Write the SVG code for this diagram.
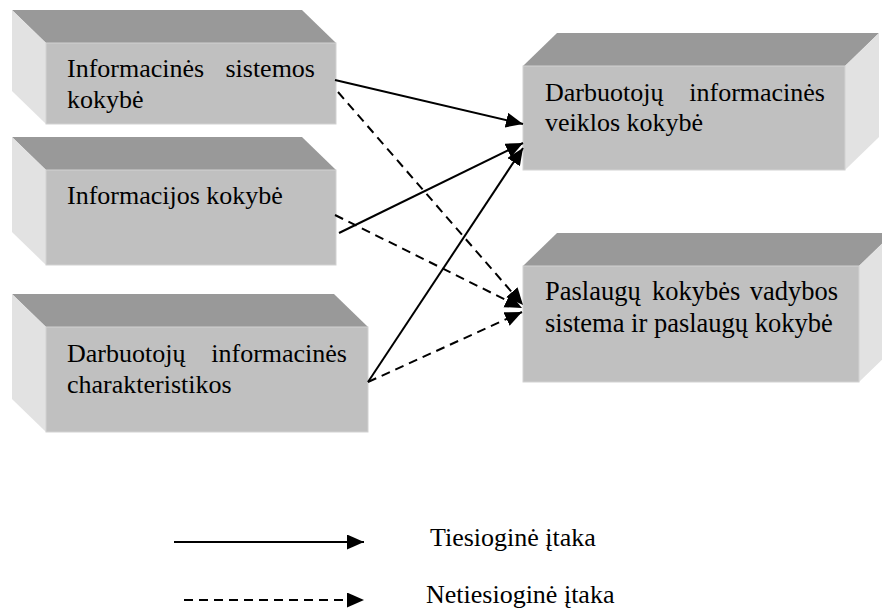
<svg xmlns="http://www.w3.org/2000/svg" width="882" height="612" viewBox="0 0 882 612">
<style>
.front{fill:#c0c0c0;stroke:#d2d2d2;stroke-width:1}
.top{fill:#999999}
.side{fill:#e2e2e2}
.t{font-family:"Liberation Serif","Times New Roman",serif;font-size:26px;fill:#000}
.solid{stroke:#000;stroke-width:2;fill:none}
.dash{stroke:#000;stroke-width:2;fill:none;stroke-dasharray:9 6}
</style>
<defs>
<marker id="ah" markerUnits="userSpaceOnUse" markerWidth="18" markerHeight="16" refX="17" refY="7.5" orient="auto">
<path d="M0,0 L17,7.5 L0,15 Z" fill="#000"/>
</marker>
</defs>
<rect width="882" height="612" fill="#fff"/>

<g id="n1">
<polygon class="top" points="12,10 302,10 336,43 46,43"/>
<polygon class="side" points="12,10 46,43 46,124 12,91"/>
<rect class="front" x="46" y="43" width="290" height="81"/>
<text class="t" x="67" y="77">Informacinės</text>
<text class="t" x="315" y="77" text-anchor="end">sistemos</text>
<text class="t" x="67" y="108">kokybė</text>
</g>

<g id="n2">
<polygon class="top" points="12,137 302,137 336,170 46,170"/>
<polygon class="side" points="12,137 46,170 46,265 12,232"/>
<rect class="front" x="46" y="170" width="290" height="95"/>
<text class="t" x="67" y="204">Informacijos kokybė</text>
</g>

<g id="n3">
<polygon class="top" points="12,294 334,294 368,327 46,327"/>
<polygon class="side" points="12,294 46,327 46,432 12,399"/>
<rect class="front" x="46" y="327" width="322" height="105"/>
<text class="t" x="67" y="362">Darbuotojų</text>
<text class="t" x="347" y="362" text-anchor="end">informacinės</text>
<text class="t" x="67" y="393">charakteristikos</text>
</g>

<g id="n4">
<polygon class="top" points="557,33 879,33 845,66 523,66"/>
<polygon class="side" points="845,66 879,33 879,137 845,170"/>
<rect class="front" x="523" y="66" width="322" height="104"/>
<text class="t" x="545" y="101">Darbuotojų</text>
<text class="t" x="825" y="101" text-anchor="end">informacinės</text>
<text class="t" x="545" y="131">veiklos kokybė</text>
</g>

<g id="n5">
<polygon class="top" points="557,233 893,233 859,266 523,266"/>
<polygon class="side" points="859,266 893,233 893,349 859,382"/>
<rect class="front" x="523" y="266" width="336" height="116"/>
<text class="t" x="545" y="300" style="font-size:26.5px">Paslaugų</text>
<text class="t" x="652" y="300" style="font-size:26.5px">kokybės</text>
<text class="t" x="838" y="300" text-anchor="end" style="font-size:26.5px">vadybos</text>
<text class="t" x="545" y="332" style="font-size:26.5px">sistema ir paslaugų kokybė</text>
</g>

<g id="connectors">
<line class="solid" x1="335" y1="80" x2="523" y2="124" marker-end="url(#ah)"/>
<line class="solid" x1="339" y1="233" x2="523" y2="143" marker-end="url(#ah)"/>
<line class="solid" x1="368" y1="382" x2="523" y2="148" marker-end="url(#ah)"/>
<line class="dash" x1="338" y1="92" x2="523" y2="305" marker-end="url(#ah)"/>
<line class="dash" x1="335" y1="215" x2="522" y2="308" marker-end="url(#ah)"/>
<line class="dash" x1="368" y1="382" x2="522" y2="312" marker-end="url(#ah)"/>
</g>

<g id="legend">
<line class="solid" x1="174" y1="542" x2="364" y2="542" marker-end="url(#ah)"/>
<line class="dash" x1="184" y1="600" x2="364" y2="600" marker-end="url(#ah)"/>
<text class="t" x="430" y="546">Tiesioginė įtaka</text>
<text class="t" x="426" y="603">Netiesioginė įtaka</text>
</g>
</svg>
